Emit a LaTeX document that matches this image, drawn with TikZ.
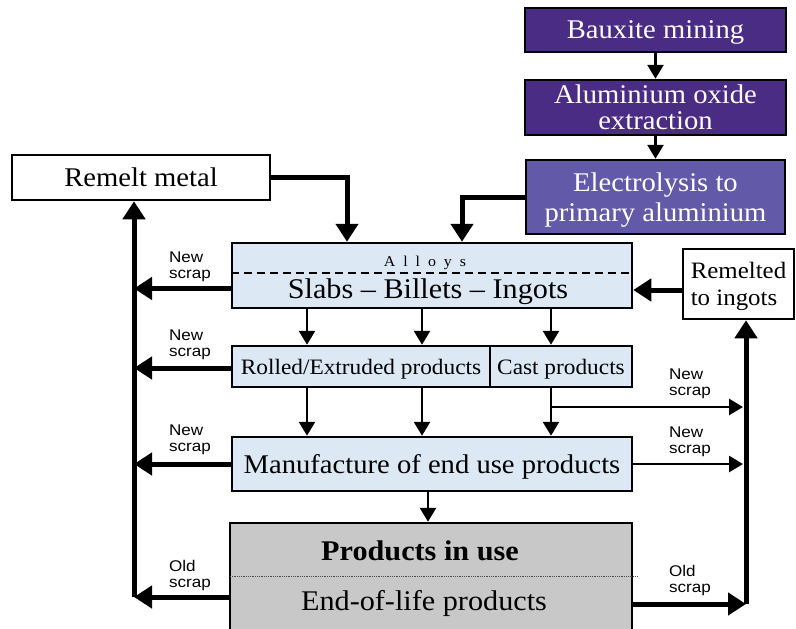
\documentclass[tikz,border=0pt]{standalone}
\usepackage{fontspec}
\setmainfont[FakeStretch=1.06]{Liberation Serif}
\setsansfont[FakeStretch=1.1]{Liberation Sans}
\usetikzlibrary{arrows.meta, positioning}
\definecolor{bauxite}{HTML}{4B2C85}
\definecolor{electro}{HTML}{6259A8}
\definecolor{alloyblue}{HTML}{DCE9F4}
\definecolor{usegrey}{HTML}{C8C8C8}

\begin{document}
\begin{tikzpicture}[x=1pt, y=-1pt,
  stage/.style={draw, line width=2.5pt, inner sep=0pt, align=center,
    font=\fontsize{27}{30}\selectfont},
  feed/.style={-{Triangle[length=14pt,width=16pt]}, line width=2.8pt},
  scrap/.style={-{Triangle[length=18pt,width=22pt]}, line width=5pt},
  note/.style={font=\sffamily\fontsize{15.5}{16}\selectfont, align=left, inner sep=0pt}]
\useasboundingbox (0,0) rectangle (796,629);

% primary route
\node[stage, fill=bauxite, text=white, minimum width=261, minimum height=44, text depth=0pt] (baux) at (655.5,30) {Bauxite mining};
\node[stage, fill=bauxite, text=white, minimum width=261, minimum height=55, font=\fontsize{27}{26}\selectfont] (oxide) at (655.5,107.5) {Aluminium oxide\\extraction};
\node[stage, fill=electro, text=white, minimum width=259, minimum height=74, text depth=0pt] (elec) at (655.5,197) {Electrolysis to\\primary aluminium};
\node[stage, fill=white, minimum width=258, minimum height=45, text depth=0pt] (remelt) at (141,177.5) {Remelt metal};

% semis
\node[stage, fill=alloyblue, minimum width=400, minimum height=65] (slabs) at (432,275.5) {};
\node[inner sep=0pt, font=\fontsize{15}{15}\selectfont] (alloys) at (425,263) {A\ \ l\ \ l\ \ o\ \ y\ \ s};
\node[inner sep=0pt, font=\fontsize{28.5}{30}\selectfont] (slabtxt) at (428,292) {Slabs – Billets – Ingots};
\draw[dash pattern=on 8pt off 5pt, line width=1.2pt] (slabs.west |- 0,273) -- (slabs.east |- 0,273);
\node[stage, fill=white, minimum width=111, minimum height=70, align=left, font=\fontsize{23.5}{27}\selectfont, text depth=0pt] (remelted) at (738.5,284) {Remelted\\to ingots};

\node[stage, fill=alloyblue, minimum width=258, minimum height=41, font=\fontsize{22}{24}\selectfont, text depth=0pt] (rolled) at (361,366.5) {Rolled/Extruded products};
\node[stage, fill=alloyblue, minimum width=142, minimum height=41, font=\fontsize{22}{24}\selectfont, text depth=0pt] (cast) at (561,366.5) {Cast products};
\node[stage, fill=alloyblue, minimum width=400, minimum height=54, text depth=0pt] (manuf) at (432,464) {Manufacture of end use products};

% use phase
\node[stage, fill=usegrey, minimum width=402, minimum height=112] (prod) at (431,579) {};
\node[inner sep=0pt, font=\bfseries\fontsize{28.5}{30}\selectfont] (inuse) at (420,551) {Products in use};
\node[inner sep=0pt, font=\fontsize{28.5}{30}\selectfont] (eol) at (424,603) {End-of-life products};
\draw[densely dotted, line width=0.8pt, black!70] (230,576) -- (637,576);

\coordinate (lbar) at (134,0);
\coordinate (rbar) at (746,0);
\coordinate (rtip) at (743,0);

% main flow
\draw[feed] (baux) -- (oxide);
\draw[feed] (oxide) -- (elec);
\draw[scrap] (remelt.east) -| ([xshift=-85pt]slabs.north);
\draw[scrap] (elec.west) -| ([xshift=30pt]slabs.north);
\draw[scrap] ([yshift=-6pt]remelted.west) -- ([yshift=-6pt]remelted.west -| slabs.east);
\foreach \x in {307,422} {
  \draw[feed] (slabs.south -| \x,0) -- (rolled.north -| \x,0);
  \draw[feed] (rolled.south -| \x,0) -- (manuf.north -| \x,0);
}
\draw[feed] (slabs.south -| 551,0) -- (cast.north -| 551,0);
\draw[feed] (cast.south -| 551,0) -- (manuf.north -| 551,0);
\draw[feed] (manuf.south -| 428,0) -- (prod.north -| 428,0);

% scrap returns, left
\draw[scrap] ([yshift=-13pt]slabs.west) -- ([yshift=-13pt]slabs.west -| lbar);
\draw[scrap] ([yshift=-1.5pt]rolled.west) -- ([yshift=-1.5pt]rolled.west -| lbar);
\draw[scrap] (manuf.west) -- (manuf.west -| lbar);
\draw[scrap] ([yshift=-18pt]prod.west) -- ([yshift=-18pt]prod.west -| lbar);
\draw[scrap] ([yshift=-18pt]prod.west -| lbar) -- (remelt.south -| lbar);

% scrap returns, right
\coordinate (castsplit) at (551,407);
\draw[feed] (castsplit) -- (castsplit -| rtip);
\draw[feed] (manuf.east) -- (manuf.east -| rtip);
\draw[scrap] ([yshift=-25pt]prod.east) -- ([yshift=-25pt]prod.east -| rbar);
\draw[scrap] ([yshift=-25pt]prod.east -| rbar) -- (remelted.south -| rbar);

% labels
\node[note] (ns1) at (190,267) {New\\scrap};
\node[note] (ns2) at (190,345) {New\\scrap};
\node[note] (ns3) at (190,440) {New\\scrap};
\node[note] (os1) at (190,575) {Old\\scrap};
\node[note] (ns4) at (690,384) {New\\scrap};
\node[note] (ns5) at (690,442) {New\\scrap};
\node[note] (os2) at (690,580) {Old\\scrap};
\end{tikzpicture}
\end{document}
